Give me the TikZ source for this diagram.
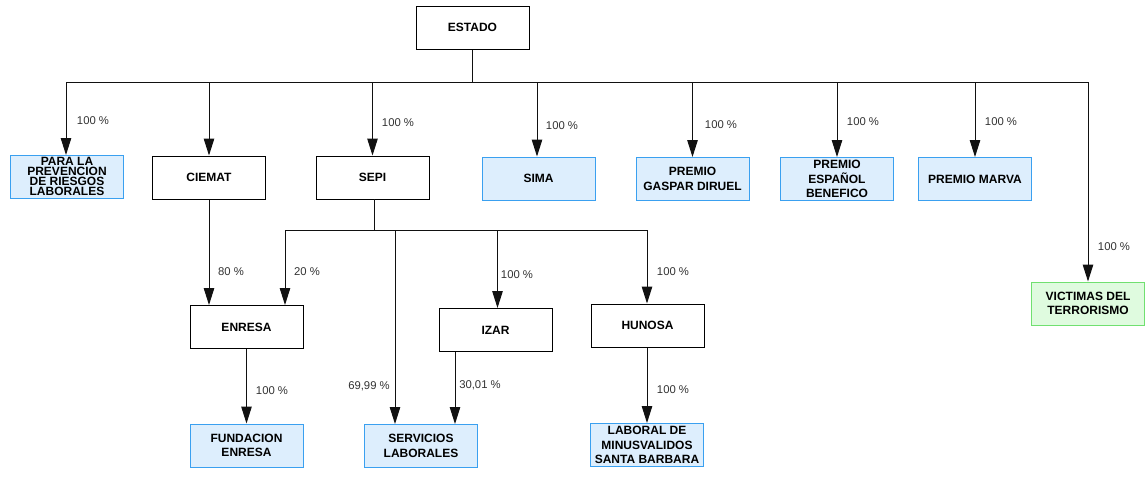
\documentclass[tikz,border=0pt]{standalone}
\usepackage{fontspec}
\setmainfont{Liberation Sans}
\usetikzlibrary{arrows.meta}
\definecolor{bfill}{HTML}{DDEEFD}
\definecolor{bline}{HTML}{3AA0F0}
\definecolor{gfill}{HTML}{DFFBDF}
\definecolor{gline}{HTML}{70E070}
\definecolor{lbl}{HTML}{333333}
\definecolor{lnc}{HTML}{111111}
\begin{document}
\begin{tikzpicture}[x=1pt,y=-1pt,
  box/.style={draw=black, line width=1pt, minimum width=113pt, minimum height=43pt,
    inner sep=0pt, align=center, font=\bfseries\fontsize{12}{14.5}\selectfont},
  bbox/.style={box, fill=bfill, draw=bline},
  gbox/.style={box, fill=gfill, draw=gline},
  pct/.style={font=\fontsize{11.3}{13}\selectfont, text=lbl, inner sep=0pt},
  ln/.style={line width=1pt, draw=lnc},
  arr/.style={ln, -{Triangle[length=17pt,width=10.5pt]}}]
\fill[white] (0,0) rectangle (1146,477);
\useasboundingbox (0,0) rectangle (1146,477);

% nodes
\node[box]  (estado)   at (472.5,27.5) {ESTADO};
\node[bbox, font=\bfseries\fontsize{12}{10}\selectfont] (para) at (67,176.5) {PARA LA\\PREVENCION\\DE RIESGOS\\LABORALES};
\node[box]  (ciemat)   at (209,177.5)  {CIEMAT};
\node[box]  (sepi)     at (372.5,177.5) {SEPI};
\node[bbox] (sima)     at (538.5,178.5) {SIMA};
\node[bbox] (gaspar)   at (692.5,179) {PREMIO\\GASPAR DIRUEL};
\node[bbox] (espanol)  at (837,179) {PREMIO\\ESPAÑOL\\BENEFICO};
\node[bbox] (marva)    at (975,179) {PREMIO MARVA};
\node[gbox] (victimas) at (1088,303.5) {VICTIMAS DEL\\TERRORISMO};
\node[box]  (enresa)   at (246.5,327) {ENRESA};
\node[box]  (izar)     at (495.5,330) {IZAR};
\node[box]  (hunosa)   at (647.5,325.5) {HUNOSA};
\node[bbox] (fundacion) at (246.5,445.5) {FUNDACION\\ENRESA};
\node[bbox] (servicios) at (421,446) {SERVICIOS\\LABORALES};
\node[bbox] (laboral)   at (647,445) {LABORAL DE\\MINUSVALIDOS\\SANTA BARBARA};

% top bus
\coordinate (busL) at (66,82);
\coordinate (busR) at (1088,82);
\coordinate (busE) at (estado.south |- busL);
\draw[ln] (estado.south) -- (busE);
\draw[ln] (busL) -- (busR);
\coordinate (pT) at (66,155);
\draw[arr] (busL) -- (pT);
\draw[arr] (ciemat.north |- busL) -- (ciemat.north);
\draw[arr] (sepi.north |- busL) -- (sepi.north);
\coordinate (simaB) at (537,82);
\draw[arr] (simaB) -- (simaB |- sima.north);
\draw[arr] (gaspar.north |- busL) -- (gaspar.north);
\draw[arr] (espanol.north |- busL) -- (espanol.north);
\draw[arr] (marva.north |- busL) -- (marva.north);
\draw[arr] (busR) -- (victimas.north);

% SEPI bus
\coordinate (sepiS) at (374,199);
\coordinate (sepiB) at (374,230);
\coordinate (s1) at (285,230);
\coordinate (s2) at (395,230);
\coordinate (s3) at (497.5,230);
\coordinate (s4) at (647,230);
\draw[ln] (sepiS) -- (sepiB);
\draw[ln] (s1) -- (s4);
\draw[arr] (s1) -- (s1 |- enresa.north);
\draw[arr] (s2) -- (s2 |- servicios.north);
\draw[arr] (s3) -- (s3 |- izar.north);
\draw[arr] (s4) -- (s4 |- hunosa.north);

% other connectors
\draw[arr] (ciemat.south) -- (ciemat.south |- enresa.north);
\draw[arr] (enresa.south) -- (fundacion.north);
\coordinate (izB) at (455,352);
\draw[arr] (izB) -- (izB |- servicios.north);
\draw[arr] (s4 |- hunosa.south) -- (s4 |- laboral.north);

% labels
\node[pct] (l1)  at (93,121)   {100 \%};
\node[pct] (l2)  at (398,123)  {100 \%};
\node[pct] (l3)  at (562,126)  {100 \%};
\node[pct] (l4)  at (721,125)  {100 \%};
\node[pct] (l5)  at (863,122)  {100 \%};
\node[pct] (l6)  at (1001,122) {100 \%};
\node[pct] (l7)  at (1114,247) {100 \%};
\node[pct] (l8)  at (231,272)  {80 \%};
\node[pct] (l9)  at (307,272)  {20 \%};
\node[pct] (l10) at (517,275)  {100 \%};
\node[pct] (l11) at (673,272)  {100 \%};
\node[pct] (l12) at (272,391)  {100 \%};
\node[pct] (l13) at (369,386)  {69,99 \%};
\node[pct] (l14) at (480,385)  {30,01 \%};
\node[pct] (l15) at (673,390)  {100 \%};
\end{tikzpicture}
\end{document}
